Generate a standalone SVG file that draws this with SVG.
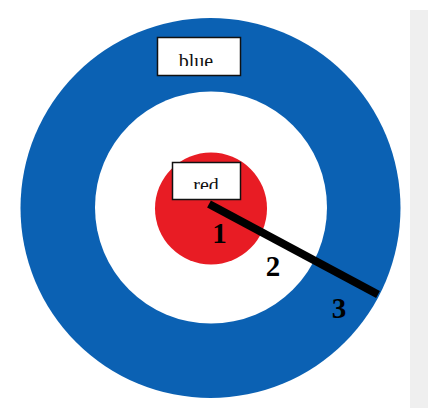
<svg xmlns="http://www.w3.org/2000/svg" width="428" height="408" viewBox="0 0 428 408">
  <style>
    .box { fill: #ffffff; stroke: #111111; stroke-width: 1.5; }
    .lbl { font-family: "Liberation Serif", "Times New Roman", serif; font-size: 20px; fill: #111111; text-anchor: middle; }
    .num { font-family: "Liberation Serif", "Times New Roman", serif; font-size: 29px; font-weight: bold; fill: #000000; text-anchor: middle; }
  </style>
  <defs>
    <clipPath id="clipBlue"><rect x="158" y="38" width="82" height="28"/></clipPath>
    <clipPath id="clipRed"><rect x="173" y="163" width="67" height="26"/></clipPath>
  </defs>
  <rect x="0" y="0" width="428" height="408" fill="#ffffff"/>
  <rect x="410" y="10" width="18" height="398" fill="#efefef"/>
  <g id="target">
    <circle cx="210.5" cy="208" r="190" fill="#0b61b3"/>
    <circle cx="211" cy="207.5" r="116" fill="#ffffff"/>
    <circle cx="211" cy="208.5" r="56" fill="#e81c24"/>
  </g>
  <g id="connectors">
    <line x1="209" y1="204" x2="378" y2="294.5" stroke="#000000" stroke-width="8"/>
  </g>
  <g id="node-blue">
    <rect class="box" x="157.5" y="37.5" width="83" height="38"/>
    <text class="lbl" x="196" y="68" clip-path="url(#clipBlue)">blue</text>
  </g>
  <g id="node-red">
    <rect class="box" x="172.5" y="162.5" width="68" height="37"/>
    <text class="lbl" x="206" y="192" clip-path="url(#clipRed)">red</text>
  </g>
  <g id="labels">
    <text class="num" x="219.5" y="243">1</text>
    <text class="num" x="273" y="276">2</text>
    <text class="num" x="339" y="318">3</text>
  </g>
</svg>
